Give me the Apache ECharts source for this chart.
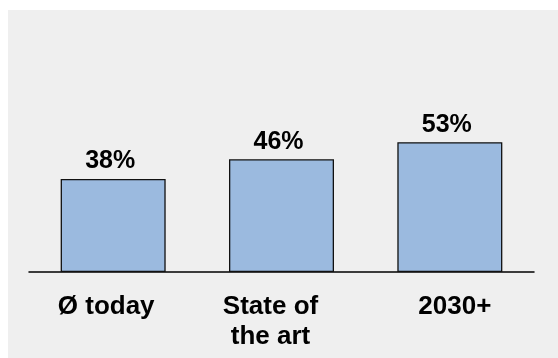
<!DOCTYPE html>
<html>
<head>
<meta charset="utf-8">
<script src="https://cdn.jsdelivr.net/npm/echarts@6/dist/echarts.min.js"></script>
<style>
  html, body { margin: 0; padding: 0; background: #ffffff; }
  #chart { width: 558px; height: 358px; }
</style>
</head>
<body>
<div id="chart"></div>
<script>
// Efficiency share per scenario (percent)
const categories = ['Ø today', 'State of\nthe art', '2030+'];
const values = [38, 46, 53];

const FONT = '"Liberation Sans", Arial, Helvetica, sans-serif';
// small horizontal nudges for the category captions
const labelShifts = [-7, -11, 5];

const chart = echarts.init(document.getElementById('chart'), null, { renderer: 'canvas' });

chart.setOption({
  animation: false,
  backgroundColor: '#ffffff',
  graphic: [{
    type: 'rect',
    left: 8,
    top: 10,
    z: -100,
    silent: true,
    shape: { width: 550, height: 348 },
    style: { fill: '#efefef' }
  }],
  grid: { left: 29, right: 24, top: 27, bottom: 86, containLabel: false },
  xAxis: {
    type: 'category',
    data: categories.map((c, i) => ({
      value: c,
      textStyle: {
        padding: labelShifts[i] < 0 ? [0, -2 * labelShifts[i], 0, 0] : [0, 0, 0, 2 * labelShifts[i]]
      }
    })),
    axisLine: { show: true, lineStyle: { color: '#000000', width: 1.5 } },
    axisTick: { show: false },
    axisLabel: {
      margin: 20,
      interval: 0,
      color: '#000000',
      fontFamily: FONT,
      fontWeight: 'bold',
      fontSize: 26,
      lineHeight: 30,
      align: 'center'
    }
  },
  yAxis: {
    type: 'value',
    min: 0,
    max: 100,
    show: false,
    splitLine: { show: false }
  },
  series: [{
    type: 'bar',
    data: values,
    barWidth: 105,
    itemStyle: {
      color: '#9bbadf',
      borderColor: '#111111',
      borderWidth: 1.3
    },
    label: {
      show: true,
      position: 'top',
      distance: 5,
      offset: [-3, 0],
      formatter: p => p.value + '%',
      color: '#000000',
      fontFamily: FONT,
      fontWeight: 'bold',
      fontSize: 25
    }
  }]
});
</script>
</body>
</html>
